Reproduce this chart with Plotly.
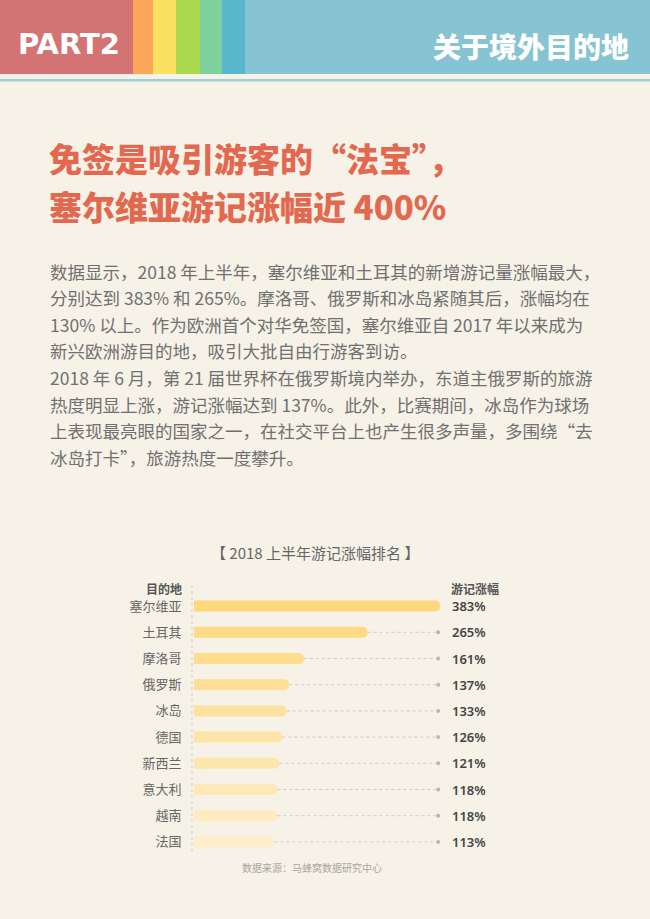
import plotly.graph_objects as go

W, H = 650, 919

# ---- data ----
destinations = ['塞尔维亚', '土耳其', '摩洛哥', '俄罗斯', '冰岛',
                '德国', '新西兰', '意大利', '越南', '法国']
growth_pct = [383, 265, 161, 137, 133, 126, 121, 118, 118, 113]

header_left = 'PART2'
header_right = '关于境外目的地'
title_lines = ['免签是吸引游客的“法宝”，', '塞尔维亚游记涨幅近 400%']
body_lines = [
    '数据显示，2018 年上半年，塞尔维亚和土耳其的新增游记量涨幅最大，',
    '分别达到 383% 和 265%。摩洛哥、俄罗斯和冰岛紧随其后，涨幅均在',
    '130% 以上。作为欧洲首个对华免签国，塞尔维亚自 2017 年以来成为',
    '新兴欧洲游目的地，吸引大批自由行游客到访。',
    '2018 年 6 月，第 21 届世界杯在俄罗斯境内举办，东道主俄罗斯的旅游',
    '热度明显上涨，游记涨幅达到 137%。此外，比赛期间，冰岛作为球场',
    '上表现最亮眼的国家之一，在社交平台上也产生很多声量，多围绕“去',
    '冰岛打卡”，旅游热度一度攀升。',
]
chart_title = '【 2018 上半年游记涨幅排名 】'
col_left = '目的地'
col_right = '游记涨幅'
source = '数据来源：马蜂窝数据研究中心'

BG = '#f6f2e7'
CJK = 'Noto Sans CJK SC'
BAR_BASE = -18      # bars start a little left of zero, like the original
DOT_AT = 380        # where the dotted guide lines end


def px(x):
    return x / W


def py(y):
    return 1 - y / H


def blend(c1, c2, t):
    a = [int(c1[i:i + 2], 16) for i in (1, 3, 5)]
    b = [int(c2[i:i + 2], 16) for i in (1, 3, 5)]
    return '#' + ''.join('%02x' % round(a[k] + (b[k] - a[k]) * t) for k in range(3))


n = len(destinations)
bar_colors = [blend('#fed87c', '#feedc8', i / (n - 1)) for i in range(n)]

fig = go.Figure()

# dotted guide lines from the bar end to the right-hand dot
gx, gy, mx, my = [], [], [], []
for d, v in zip(destinations, growth_pct):
    if v < DOT_AT:
        gx += [v, DOT_AT, None]
        gy += [d, d, None]
        mx.append(DOT_AT)
        my.append(d)
fig.add_trace(go.Scatter(x=gx, y=gy, mode='lines', hoverinfo='skip',
                         line=dict(color='#d2cdc3', width=1, dash='dot')))
fig.add_trace(go.Scatter(x=mx, y=my, mode='markers', hoverinfo='skip',
                         marker=dict(color='#bcb7ad', size=4)))

# rounded bars, plus a short square piece to keep the left end flat
fig.add_trace(go.Bar(
    y=destinations, x=[v - BAR_BASE for v in growth_pct], base=BAR_BASE,
    orientation='h', width=0.42,
    marker=dict(color=bar_colors, cornerradius=6, line=dict(width=0)),
    hoverinfo='skip'))
fig.add_trace(go.Bar(
    y=destinations, x=[14] * n, base=BAR_BASE,
    orientation='h', width=0.42,
    marker=dict(color=bar_colors, line=dict(width=0)),
    hoverinfo='skip'))

annotations = []
for d, v in zip(destinations, growth_pct):
    annotations.append(dict(
        x=px(450), xref='paper', y=d, yref='y', xanchor='left', yanchor='middle',
        text=f'{v}%', showarrow=False,
        font=dict(family='Noto Sans', size=13, color='#454545', weight=600)))

# header
annotations.append(dict(x=px(16), y=py(44), xref='paper', yref='paper',
                        xanchor='left', yanchor='middle', text=header_left, showarrow=False,
                        font=dict(family='DejaVu Sans', size=29, color='white', weight='bold')))
annotations.append(dict(x=px(631), y=py(46), xref='paper', yref='paper',
                        xanchor='right', yanchor='middle', text=header_right, showarrow=False,
                        font=dict(family=CJK, size=28, color='white', weight=900)))

# title
for i, t in enumerate(title_lines):
    annotations.append(dict(x=px(47), y=py(158 + 48 * i), xref='paper', yref='paper',
                            xanchor='left', yanchor='middle', text=t, showarrow=False,
                            font=dict(family=CJK, size=33, color='#e2694f', weight=900)))

# body text
for i, t in enumerate(body_lines):
    annotations.append(dict(x=px(48), y=py(271 + 26.6 * i), xref='paper', yref='paper',
                            xanchor='left', yanchor='middle', text=t, showarrow=False,
                            font=dict(family=CJK, size=17.5, color='#707070')))

# chart texts
annotations.append(dict(x=px(315), y=py(552), xref='paper', yref='paper',
                        xanchor='center', yanchor='middle', text=chart_title, showarrow=False,
                        font=dict(family=CJK, size=15, color='#666666')))
annotations.append(dict(x=px(184), y=py(588), xref='paper', yref='paper',
                        xanchor='right', yanchor='middle', text=col_left, showarrow=False,
                        font=dict(family=CJK, size=12, color='#555555', weight=600)))
annotations.append(dict(x=px(449), y=py(588), xref='paper', yref='paper',
                        xanchor='left', yanchor='middle', text=col_right, showarrow=False,
                        font=dict(family=CJK, size=12, color='#555555', weight=600)))
annotations.append(dict(x=px(312), y=py(867), xref='paper', yref='paper',
                        xanchor='center', yanchor='middle', text=source, showarrow=False,
                        font=dict(family=CJK, size=10, color='#a9a6a0')))

# header blocks
stripes = [(0, 133, '#d47373'), (133, 153, '#fda65a'), (153, 176, '#fbe160'),
           (176, 200, '#a9da4d'), (200, 222, '#7ed19c'), (222, 245, '#58b7cc'),
           (245, 650, '#86c3d3')]
shapes = []
for x0, x1, c in stripes:
    shapes.append(dict(type='rect', xref='paper', yref='paper', x0=px(x0), x1=px(x1),
                       y0=py(74), y1=py(0), fillcolor=c, line=dict(width=0), layer='below'))
shapes.append(dict(type='rect', xref='paper', yref='paper', x0=0, x1=1,
                   y0=py(81.5), y1=py(79), fillcolor='#a2cdd6', line=dict(width=0)))
shapes.append(dict(type='line', xref='paper', yref='paper', x0=px(192), x1=px(192),
                   y0=py(852), y1=py(582), line=dict(color='#d2cdc3', width=1, dash='dot')))

fig.update_layout(
    width=W, height=H,
    margin=dict(l=0, r=0, t=0, b=0),
    paper_bgcolor=BG, plot_bgcolor='rgba(0,0,0,0)',
    barmode='overlay', showlegend=False,
    annotations=annotations, shapes=shapes,
    xaxis=dict(domain=[px(194), px(440)], range=[BAR_BASE, 383], visible=False,
               fixedrange=True),
    yaxis=dict(domain=[py(855), py(593)], type='category', categoryorder='array',
               categoryarray=destinations, range=[9.5, -0.5],
               showgrid=False, zeroline=False, showline=False,
               ticks='outside', ticklen=9, tickcolor='rgba(0,0,0,0)',
               tickfont=dict(family=CJK, size=13, color='#666666'), fixedrange=True),
)

# drop the browser's default page margin so the figure fills the window
fig.write_html('out.html', config={'displayModeBar': False},
               post_script="document.body.style.margin='0';"
                           "document.body.style.overflow='hidden';")
